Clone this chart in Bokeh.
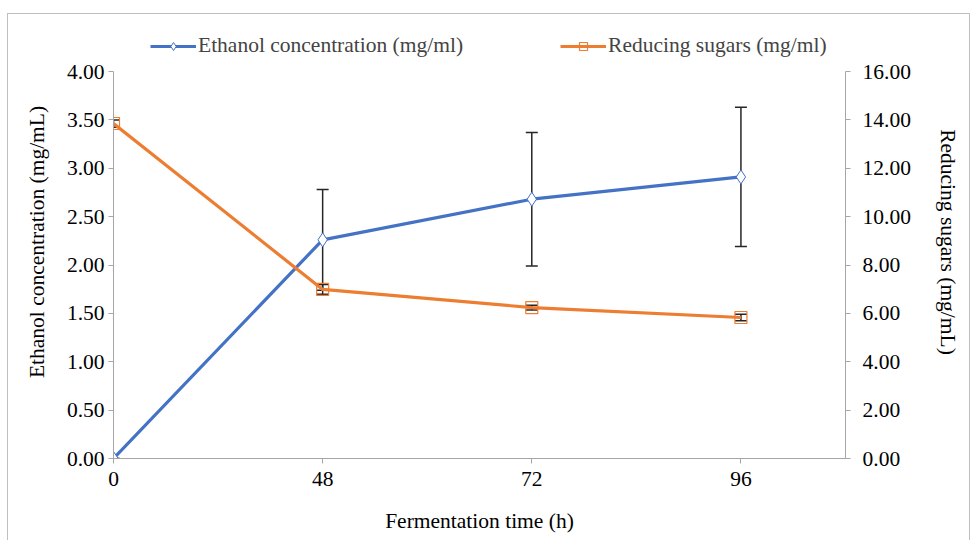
from bokeh.plotting import figure
from bokeh.models import (Range1d, LinearAxis, FixedTicker, NumeralTickFormatter,
                          ColumnDataSource, Whisker, TeeHead, Legend, LegendItem, InlineStyleSheet)
from bokeh.embed import file_html
from bokeh.resources import INLINE

time_labels = ["0", "48", "72", "96"]
ethanol = [0.0, 2.26, 2.68, 2.91]
ethanol_err = [0.0, 0.52, 0.69, 0.72]
sugars = [13.85, 6.99, 6.24, 5.83]
sugars_err = [0.15, 0.2, 0.1, 0.13]

ETH_MAX = 4.0
SUG_MAX = 16.0

xpos = list(range(len(time_labels)))
FONT = "Liberation Serif"
FS = "21.5px"
BLUE = "#4472C4"
ORANGE = "#ED7D31"

# layout: frame extends above the axis maximum so the legend can sit inside it
H, TOP, BOTTOM, AXTOP = 540, 25, 82, 71
stretch = (H - BOTTOM - TOP) / (H - BOTTOM - AXTOP)

src = ColumnDataSource(dict(
    x=xpos, eth=ethanol,
    eth_lo=[v - e for v, e in zip(ethanol, ethanol_err)],
    eth_hi=[v + e for v, e in zip(ethanol, ethanol_err)],
    sug=sugars,
    sug_lo=[v - e for v, e in zip(sugars, sugars_err)],
    sug_hi=[v + e for v, e in zip(sugars, sugars_err)],
))

p = figure(width=972, height=H, output_backend="svg", toolbar_location=None,
           x_range=Range1d(0, 3.5), y_range=Range1d(0, ETH_MAX * stretch),
           min_border_left=113, min_border_right=127, min_border_top=TOP, min_border_bottom=BOTTOM)
p.extra_y_ranges = {"sug": Range1d(0, SUG_MAX * stretch)}
p.xgrid.visible = False
p.ygrid.visible = False
p.outline_line_color = None
p.background_fill_color = "white"
p.border_fill_color = "white"
p.stylesheets = [InlineStyleSheet(css=""":host::after { content: ''; position: absolute; left: 7px; top: 13px;
  right: 2px; bottom: -4px; border: 1.5px solid #BFBFBF; pointer-events: none; }""")]

def style_axis(ax, label):
    ax.axis_label = label
    ax.axis_label_text_font = FONT
    ax.axis_label_text_font_size = FS
    ax.axis_label_text_font_style = "normal"
    ax.axis_label_text_color = "black"
    ax.major_label_text_font = FONT
    ax.major_label_text_font_size = FS
    ax.major_label_text_color = "black"
    ax.axis_line_color = "#A6A6A6"
    ax.major_tick_line_color = "#A6A6A6"
    ax.major_tick_in = 0
    ax.major_tick_out = 5
    ax.minor_tick_line_color = None

xa = p.xaxis[0]
style_axis(xa, "Fermentation time (h)")
xa.ticker = FixedTicker(ticks=xpos)
xa.major_label_overrides = {i: t for i, t in zip(xpos, time_labels)}
xa.major_label_standoff = 8
xa.axis_label_standoff = 20

ya = p.yaxis[0]
style_axis(ya, "Ethanol concentration (mg/mL)")
ya.ticker = FixedTicker(ticks=[i * 0.5 for i in range(9)])
ya.formatter = NumeralTickFormatter(format="0.00")
ya.bounds = (0, ETH_MAX)
ya.major_label_standoff = 4
ya.axis_label_standoff = 15

ra = LinearAxis(y_range_name="sug")
style_axis(ra, "Reducing sugars (mg/mL)")
ra.ticker = FixedTicker(ticks=[i * 2 for i in range(9)])
ra.formatter = NumeralTickFormatter(format="0.00")
ra.bounds = (0, SUG_MAX)
ra.major_label_standoff = 12
ra.axis_label_standoff = 22
p.add_layout(ra, "right")

# error bars
def tee():
    return TeeHead(size=12, line_color="#262626", line_width=1.5)

p.add_layout(Whisker(source=src, base="x", lower="eth_lo", upper="eth_hi", dimension="height",
                     line_color="#262626", line_width=1.5, upper_head=tee(), lower_head=tee()))
p.add_layout(Whisker(source=src, base="x", lower="sug_lo", upper="sug_hi", dimension="height",
                     y_range_name="sug", line_color="#262626", line_width=1.5,
                     upper_head=tee(), lower_head=tee()))

l1 = p.line("x", "eth", source=src, line_color=BLUE, line_width=3.2)
m1 = p.scatter("x", "eth", source=src, marker="diamond", size=14, fill_color="white",
               line_color=BLUE, line_width=1)
l2 = p.line("x", "sug", source=src, line_color=ORANGE, line_width=3.2, y_range_name="sug")
m2 = p.scatter("x", "sug", source=src, marker="square", size=12, fill_color=None,
               line_color=ORANGE, line_width=1.2, y_range_name="sug")

legend = Legend(items=[LegendItem(label="Ethanol concentration (mg/ml)", renderers=[l1, m1]),
                       LegendItem(label="Reducing sugars (mg/ml)", renderers=[l2, m2])],
                orientation="horizontal", location=(37, 400), spacing=97,
                glyph_width=46, glyph_height=20, label_text_font=FONT, label_text_font_size=FS,
                label_standoff=2, padding=0, margin=0, border_line_color=None,
                background_fill_alpha=0)
p.add_layout(legend)

open("out.html", "w").write(file_html(p, INLINE))
